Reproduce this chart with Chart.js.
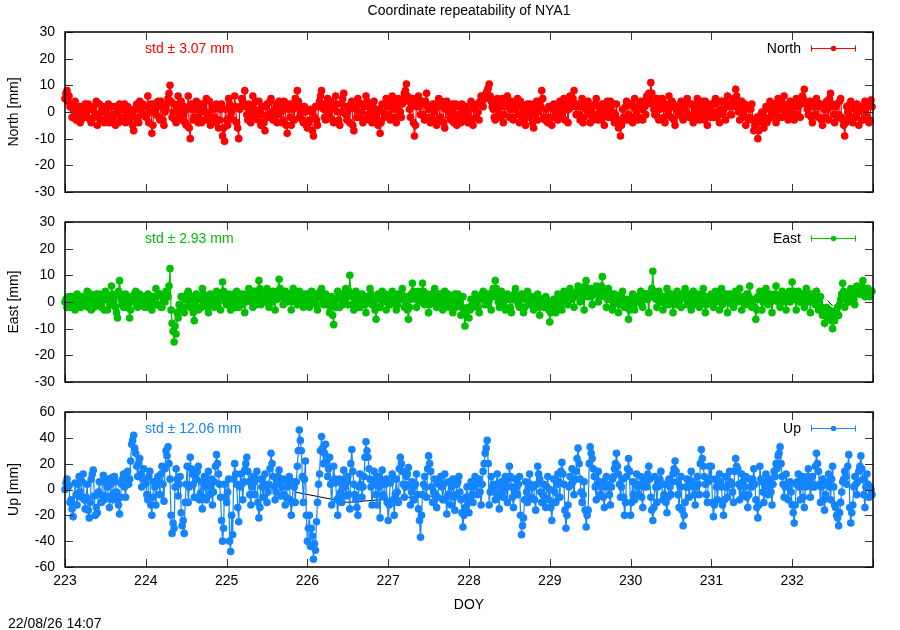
<!DOCTYPE html>
<html>
<head>
<meta charset="utf-8">
<title>Coordinate repeatability of NYA1</title>
<script src="https://cdn.jsdelivr.net/npm/chart.js@4.4.1/dist/chart.umd.min.js"></script>
<style>
  html, body { margin: 0; padding: 0; background: #fff; }
  #wrap { position: relative; width: 900px; height: 630px; }
  #wrap canvas { position: absolute; left: 0; top: 0; }
</style>
</head>
<body>
<div id="wrap">
  <canvas id="northChart" width="900" height="630"></canvas>
  <canvas id="eastChart" width="900" height="630"></canvas>
  <canvas id="upChart" width="900" height="630"></canvas>
</div>
<script>
// epochs: solutions every 0.025 day starting at DOY 223.0 (the *B lists hold the
// solutions that fall half a step later, 223.0125, 223.0375, ...)
const doyStart = 223
const epochStep = 0.025
const midOffset = 0.0125
const doyTicks = [223, 224, 225, 226, 227, 228, 229, 230, 231, 232, 233]

// North residuals [mm], one row per day
const north = [
  5, 8, 6, 3, 1, 4, -1, 2, -3, 0, 3, -2, 1, -4, 2, -1, -5, 3, 0, -3, 1, -2, -4, 2, -1, -5, 0, 3, -3, 1, -4, 2, -2, 0, -7, 1, -3, 4, -1, 2,
  -2, 6, 0, -8, 3, -1, 4, -3, 2, -5, 1, 5, 10, -2, 3, -4, 6, 0, -3, 2, -5, 6, -10, 1, -2, 4, -4, 0, 3, -3, 5, -1, -5, 2, -2, 3, -6, 1, -9, -11,
  -3, 5, -2, 1, 6, -4, -10, 2, 4, 8, -1, 3, -4, 6, 0, -2, 4, -5, 2, -7, 3, -1, 5, -3, 1, -4, 4, 0, -3, 2, -8, 3, -5, 1, 5, 8, -2, 2, -4, 0,
  -6, -3, 0, -9, 2, -5, 4, 8, 1, -3, 5, -2, 3, -4, 6, 0, -5, 3, 7, -1, 2, -4, 4, -7, 1, 5, -2, 3, -3, 6, -1, 2, -4, 4, 0, -5, -8, 3, -2, 5,
  2, -3, 6, 1, -4, 5, 0, 3, 7, 10.5, 4, -2, 5, -9, 2, 6, -1, 4, -3, 7, 1, -4, 3, 0, -5, 5, -2, 2, -6, 4, 0, -3, 3, -1, -5, 2, -4, 1, -3, 0,
  -2, 4, -5, 1, 3, -3, 6, 2, 5, 8, 10.5, 4, 1, -3, 5, -1, 3, -4, 2, 6, -2, 4, -3, 1, 5, -4, 2, 0, -5, 3, -2, 1, -6, 2, -3, 4, 8, -2, 1, -4,
  2, -5, 3, 0, -3, 4, -2, 5, 1, -4, 6, 2, 8, -1, 3, -3, 5, -2, 1, 4, -4, 2, -1, 5, -3, 0, 3, -5, 2, -2, 4, 0, -4, 3, -6, -9, 1, -3, 4, -1,
  3, -4, 5, 0, -2, 4, -3, 2, 6, 7, 11, 3, -1, 5, -3, 2, 4, -4, 1, 6, -2, 3, -5, 2, 0, 4, -3, 1, 5, -2, 3, -4, 0, 5, -3, 2, -1, 4, -5, 1,
  3, -2, 5, 0, -4, 4, 1, -3, 6, 2, -1, 5, 8.5, 3, -3, 4, 0, -5, 2, -2, 3, -7, -4, -10, -3, 0, -6, 2, -3, 4, -1, 3, -4, 5, 1, -2, 6, 0, -3, 4,
  1, -3, 5, 2, -2, 6, 8.5, 3, -1, 4, -4, 2, 5, -2, 3, -5, 1, 4, -3, 7, 2, -4, 3, -1, 5, -3, -9, 2, -2, 4, -4, 1, 3, -5, 2, -3, 4, -2, -4, 4.5,
]
const northB = [
  7, 4, 2, -2, 3, -3, 1, -4, 2, -2, 0, 3, -3, 1, -2, 4, -1, -3, 2, -4, 0, 3, -2, -3, 2, -1, -4, 1, -2, 3, 0, -3, 1, -5, -2, 3, -4, 1, 3, -1,
  2, -4, 3, -5, 1, 2, -2, 4, -3, 0, 3, 7, 4, 0, -3, 2, -2, 4, -1, -4, 1, -6, 3, -3, 1, -2, 3, -4, 2, 0, -3, 4, -2, 1, -4, 2, -3, 3, -6, 1,
  -5, 3, 0, -3, 2, -6, 1, 5, 3, 2, -3, 0, 2, -2, 4, -3, 1, -1, -4, 2, -2, 4, 0, -2, 3, -1, 2, -4, 4, -5, 1, -2, 3, -3, 2, 4, 0, -3, 2, -5,
  -4, 1, -7, -2, -3, 2, 6, 3, -2, 2, 0, 4, -3, 1, 3, -3, 0, 5, 2, -3, 1, 3, -5, 2, -2, 3, 0, -4, 2, 4, -3, 0, 2, -2, -3, 1, -4, 0, 3, 2,
  -1, 4, 3, -2, 2, 3, -2, 5, 8, 6, 1, 3, -4, -5, 4, 2, 3, -1, 4, 2, -2, 1, -3, 3, 2, -3, 4, -4, 1, 2, -2, 1, -4, 3, -2, -1, 3, -2, 2, -4,
  1, -3, 2, -2, 0, 4, 3, 6, 7, 9, 6, 2, -2, 3, 1, -2, 5, -1, 4, 3, 1, -2, 2, 3, -1, 4, -2, -3, 1, 0, 3, -4, -1, 4, 0, 2, 5, -3, -2, 2,
  -2, 1, -2, 2, 1, -1, 3, -3, 3, 1, 4, 5, 3, 2, -1, 2, -4, 3, 2, -1, 1, -3, 3, -2, 2, -3, 1, -1, 4, 1, -2, 3, -1, -4, -3, -5, -2, 2, -3, 3,
  -2, 2, 1, -3, 3, 1, 4, -1, 3, 5, 7, 1, 3, -2, 1, 5, -2, 3, -1, 2, 4, -3, 1, -1, 3, -2, 2, 4, -1, 3, -2, 2, 3, -2, 1, 4, -3, 2, 0, -2,
  0, 3, -2, 4, 1, -1, 4, 2, 3, -1, 4, 2, 6, 0, 2, -2, 3, 2, -3, 1, -3, -5, -2, -7, -1, -4, -2, -4, 1, -2, 3, 0, 2, -2, 4, 3, 2, -2, 3, -1,
  3, 2, -1, 4, 3, 5, 4, 1, 2, -2, 3, -1, 2, 3, -3, 2, -2, 1, 5, 3, -1, 2, -2, 4, -2, -5, -4, 0, 3, -2, 2, -2, 0, 2, -3, 1, -1, 2, -3, 2,
]

// East residuals [mm]
const east = [
  0, -2, 2, -1, 1, -3, 3, 0, -2, 2, -1, 4, 1, -3, 2, 0, -1, 3, -2, 1, 4, -3, 2, 6, 0, -2, -6, 8, 1, -2, 3, -1, -6, 2, 0, 4, -2, 3, -1, 1,
  -2, 3, 0, -3, 2, 5, -1, 3, -2, 1, 4, 2, 12.5, -8, -15, -12, -6, -3, 2, -4, 1, 4, -2, 0, -7, 3, -3, 1, 5, -1, 2, -4, 3, 0, -2, 4, 1, -3, 7.5, 2,
  -1, 3, -3, 2, 0, 4, -2, 1, 3, -4, 2, 5, 0, -2, 4, 1, 8, -1, 3, 0, 5, -2, 2, 4, -3, 1, 8.5, 2, -1, 4, 0, 3, -3, 5, 1, -1, 4, 2, -2, 3,
  1, -2, 4, 0, 3, -3, 2, 5, -1, 3, 0, -4, 2, -8.5, 1, 4, -2, 3, 0, 5, -1, 10, 2, -3, 4, 0, -2, 3, 1, -4, 2, 5, -1, 0, -6.5, 3, -2, 4, 1, -3,
  2, -1, 4, 0, -3, 3, 1, 5, -2, 2, -6.5, 1, 7, 3, -2, 4, 0, 7, -1, 3, -4, 2, 0, 5, -2, 1, 3, -3, 4, 0, -2, 2, -4, 3, 1, -1, -5, 2, -9, -3,
  -6, 1, -2, 3, 0, -4, 2, 4, -1, 3, 1, -3, 5, 8, 2, -2, 4, 0, -3, 3, 1, -4, 2, 5, 0, -2, 3, -4, 1, 4, -1, 2, -3, 0, 3, -5, 1, -2, 2, -1,
  -7.5, -2, 1, -4, 3, 0, -3, 4, 2, -1, 5, 1, -2, 3, 6, 0, 4, -3, 8, 2, 5, -1, 3, 6, 0, 4, 9.5, 2, -2, 5, 1, -3, 3, 0, -4, 2, 4, -2, 1, -6.5,
  -1, 3, -3, 2, 0, 4, -2, 1, 3, -4, 2, 11.5, 3, -2, 4, 0, -3, 2, 5, -1, 3, -4, 1, 4, 0, -2, 3, 5, -1, 2, -3, 4, 0, 3, -2, 1, 5, -4, 2, 0,
  3, -2, 4, 1, -3, 5, 0, 2, -4, 3, 1, -2, 4, 0, 5, -3, 2, -1, 3, 6, -2, 1, -6.5, 2, 4, -3, 0, 5, -1, 3, -4, 2, 6, 0, -2, 4, 1, -3, 3, 0,
  7.5, 2, -3, 4, 0, 3, -2, 5, 1, -4, 3, 0, 4, -3, 2, -5, -8, -2, -6, -4, -10, -7, -3, -5, 1, 7, -2, 3, 0, 5, 2, -1, 6, 3, 4, 8, 2, 5, 3, 4,
]
const eastB = [
  1, 0, -2, 2, -1, 1, -2, 2, 1, -1, 2, -2, 3, 0, -2, 3, 1, -1, 2, -3, 1, 2, -1, 3, 2, -4, 4, 3, -1, 2, -2, 1, -3, 1, 3, -1, 2, 0, 2, -2,
  1, -1, 2, 1, -1, 2, 3, -2, 2, 0, 3, 6, -3, -11, -9, -4, -1, 2, -2, 1, 3, -1, 2, -4, -1, 1, 2, -2, 3, 1, -2, 1, -1, 2, 3, -1, 3, 2, 4, 0,
  2, -1, 1, 3, -2, 2, 3, -1, 2, 0, 3, 2, 4, 1, -1, 3, 5, 2, 1, 3, 2, 3, 0, 2, 3, 4, 5, 3, 1, 2, 3, 1, 2, 0, 3, 2, 1, 3, 0, 1,
  3, 0, 2, 1, -1, 2, 4, 1, 2, -1, 2, -2, -5, 0, -2, 2, 1, -1, 3, 2, 4, 3, -1, 1, 2, -2, 1, 2, -1, 2, 0, 3, 1, -3, -2, 1, 2, 0, 3, 1,
  0, 3, 1, 2, -1, 2, 3, 1, 0, -3, -2, 3, 4, 1, 2, 1, 3, 4, 2, 1, -1, 3, 2, 1, 0, 3, -1, 2, 1, 3, -1, 0, 2, -2, 3, 1, -2, -4, -5, -2,
  -3, -1, 1, 2, -2, 1, 3, 2, 1, -1, 3, 2, 4, 5, 0, 2, 1, -2, 2, 1, -2, 1, 3, 2, -1, 1, 2, -2, 2, 1, 0, -1, 1, 2, -2, 1, -1, 0, 1, -3,
  -4, 0, -2, 1, 2, -1, 2, 1, 3, 2, 1, 3, 2, 4, 3, 5, 2, 6, 4, 3, 2, 4, 5, 3, 2, 6, 5, 3, 1, 2, 3, -1, 1, 2, -1, 3, 1, 0, -2, -3,
  1, -1, 0, 2, 1, -1, 2, 3, 1, 2, 5, 4, 1, 2, 0, 2, 1, -1, 3, 1, 0, 2, -1, 2, 1, 3, 2, 1, 0, 3, 1, -1, 2, 1, 0, 3, 2, -1, 1, 2,
  1, 2, 0, 3, 1, -1, 2, 3, 0, 2, -1, 3, 1, 2, 2, 0, 1, 3, 2, 1, 0, -2, -3, 1, 2, 0, 3, 1, 2, 0, 1, 3, 2, 1, 3, 2, 0, 1, 4, 2,
  4, 1, 2, 0, 3, 1, 2, 0, 3, 1, 2, -1, 1, 0, -2, -3, -5, -4, -3, -7, -6, -5, -2, -1, 3, 4, 1, 2, 4, 3, 1, 4, 5, 3, 6, 4, 3, 5, 2, 4,
]

// Up residuals [mm]
const up = [
  0, 8, 3, -8, -21, 5, -12, 10, -6, 12, -15, 4, -22, 8, 15, -20, -18, 6, -10, 11, -5, 2, -14, 9, -3, 6, -8, -19, 4, 12, -6, 14, 8, 35, 42, 28, 10, 24, 2, 16,
  5, -8, 14, -20, 6, -12, 10, -4, 18, -9, 30, 33, 8, -34, -30, 16, -5, 10, -28, -34, 4, -10, 25, 12, -6, 8, 18, -3, -15, 10, -8, 14, 2, -12, 6, 27, 12, -6, -40, 4,
  -10, 8, -48, -35, 20, 4, -25, 12, -8, 15, 25, 6, -12, 10, -4, 14, -22, 8, -6, 12, -10, 4, 28, 10, -8, 6, 15, -5, 8, -12, 2, 10, -20, 6, -10, 18, 46, 30, -10, 22,
  -40, -20, -30, -54, -47, -10, 12, 41, 20, 35, 10, 25, -12, 18, 5, -20, 8, -10, 15, -5, 10, -15, 31, 4, -8, -20, 12, -6, 10, 37, 25, 8, -12, 14, -4, 10, -22, 15, -6, 8,
  -24, 5, 12, -20, 8, -10, 25, 14, -6, 10, 17, -12, 6, -8, 12, -15, -37, -4, 10, -6, 26, 14, -10, 8, -14, 4, 10, -8, 12, -19, 6, -12, 8, -16, 4, 10, -8, -29, -14, 2,
  -18, 6, -10, 10, -4, 8, -12, 14, 28, 38, -12, 10, 4, -8, 12, -15, 6, -6, 10, -10, 18, 2, -14, 8, -4, 10, -35, -22, 6, -10, 12, -6, 2, -16, 18, 8, -10, 4, -14, 10,
  0, -24, 8, -10, 12, -6, 21, 4, -30, -12, 10, 16, -4, 14, 32, 8, -10, 6, -29, -16, 33, 24, 10, -8, 14, -4, 6, -14, 10, 2, -12, 8, 16, 28, 12, -6, 8, -20, 10, 24,
  -20, 6, -8, 12, -4, 10, -14, 8, 2, 18, -6, -24, 10, -10, 6, 14, -8, 4, -18, 8, -4, 12, 22, 6, -14, 10, -28, -10, 8, -6, 14, 2, -12, 10, -4, 31, 18, 4, -10, 18,
  18, -21, 8, -8, 12, 2, -20, 10, -6, 14, 4, -10, 24, 16, -8, 12, -4, 10, -14, 8, 2, 16, -8, -22, 18, 6, -10, 12, -4, 8, -12, 14, 20, 26, 33, 10, -6, 12, -8, 6,
  -12, -26, 4, 12, -8, 10, -14, 6, 16, -6, 10, 2, 28, 14, -10, 8, -16, 4, 12, -8, 18, -12, -20, -28, -10, 6, 14, 4, 27, -26, -12, 10, -4, 14, 26, 8, -14, 12, -6, 0,
]
const upB = [
  5, 2, -10, -15, -12, -4, 4, -2, 6, -8, -6, -16, -10, 12, -5, -14, -2, -4, 6, -8, 8, -6, 4, -8, 10, -2, -12, -6, 8, 2, 10, 4, 22, 38, 32, 18, 20, 12, 8, 4,
  -4, 10, -12, -6, 2, 4, 6, 12, 4, 16, 26, 20, -20, -26, 2, 8, 4, -18, -24, -10, 18, 2, 16, 4, 10, 14, -8, 6, -6, 2, 6, -4, 8, -2, 18, 20, 4, -24, -30, -6,
  -2, -40, -20, 8, 12, -14, 2, 4, 6, 20, 14, -4, 2, 6, 8, -10, -14, 2, 4, 2, -2, 16, 20, 2, -2, 10, 4, 2, -4, -6, 6, -8, -10, 2, 6, 30, 38, 10, 8, -20,
  -30, -44, -36, -42, -25, 4, 30, 32, 28, 22, 16, 4, 6, 8, -8, -6, -2, 4, 2, 6, -4, 20, 14, -4, -14, 2, 4, 2, 25, 30, 16, 2, 4, 6, -12, 2, 6, -4, 4, -10,
  -12, 8, -8, -4, -2, 16, 20, 4, 2, 12, 4, -2, 2, 4, -4, -24, -20, 4, 2, 16, 20, 2, -2, -4, -6, 6, 2, 4, -8, -4, -4, 2, -6, -4, 6, -2, -18, -20, -6, -10,
  -6, -4, 2, 4, 6, -2, 4, 20, 32, 20, -2, 2, -2, 4, -4, 2, -2, 4, 2, 8, 10, -6, -2, 2, 4, -20, -28, -8, -2, 2, 4, 2, -8, 4, 12, -2, -4, -6, 2, -8,
  -14, -10, -2, 4, 6, 14, 12, -16, -20, 2, 4, 6, 8, 24, 20, -2, -4, -16, -20, 20, 28, 16, 2, 4, 6, 2, -6, 2, 4, -4, 2, 10, 20, 18, 4, 2, -6, -10, 16, 14,
  -10, -4, 4, 2, 4, -6, 2, 4, 12, 8, -16, -14, 2, 2, 8, 4, -4, -10, -6, 2, 6, 16, 14, -4, 2, -16, -20, 2, 2, 4, 6, -4, 2, 4, 20, 24, 10, -4, 6, 8,
  -10, -12, 2, 4, 6, -12, -8, 2, 4, 6, -2, 14, 18, 4, 2, 6, 2, -6, -4, 2, 8, 4, -14, -12, 8, -2, 2, 4, 2, -2, 4, 10, 16, 28, 20, 4, 2, 4, 2, -2,
  -18, -12, 6, 2, 4, -6, 2, 10, 6, 2, 4, 18, 20, 4, 2, -8, -4, 6, 2, 8, 2, -14, -22, -18, -2, 8, 10, 18, -14, -18, 2, 4, 6, 18, 16, -4, 2, 4, 2, -4,
]

// thin black segments visible under the data
const eastBlackDoy = [232.44, 232.5]
const eastBlack = [0.5, -1.5]
const upBlackDoy = [225.85, 226.5, 227.45, 228.15]
const upBlack = [-2, -10, -5, -6]

const stdTexts = ['std \u00b1 3.07 mm', 'std \u00b1 2.93 mm', 'std \u00b1 12.06 mm']

const FONT = '"Liberation Sans", Arial, sans-serif'

// merge the on-step and half-step solutions into one time-ordered series
function epochPoints(values, midValues) {
  const pts = []
  values.forEach((v, i) => {
    const t = doyStart + i * epochStep
    pts.push({ x: t, y: v })
    pts.push({ x: t + midOffset, y: midValues[i] })
  })
  return pts
}

function toPoints(doys, values) {
  return values.map((v, i) => ({ x: doys[i], y: v }))
}

const gnuFrame = {
  id: 'gnuFrame',
  afterDraw(chart, args, opts) {
    const {
      ctx,
      chartArea: { left, top, right, bottom },
      scales: { x, y },
    } = chart
    ctx.save()
    // inward ticks on all four sides
    ctx.strokeStyle = '#333'
    ctx.lineWidth = 1
    ctx.beginPath()
    y.ticks.forEach((t) => {
      const py = Math.round(y.getPixelForValue(t.value)) + 0.5
      ctx.moveTo(left, py)
      ctx.lineTo(left + 8, py)
      ctx.moveTo(right, py)
      ctx.lineTo(right - 8, py)
    })
    doyTicks.forEach((d) => {
      const px = Math.round(x.getPixelForValue(d)) + 0.5
      ctx.moveTo(px, top)
      ctx.lineTo(px, top + 8)
      ctx.moveTo(px, bottom)
      ctx.lineTo(px, bottom - 8)
    })
    ctx.stroke()
    ctx.strokeStyle = '#000'
    ctx.lineWidth = 1.5
    ctx.strokeRect(left, top, right - left, bottom - top)

    // std label
    ctx.font = `14px ${FONT}`
    ctx.textBaseline = 'alphabetic'
    ctx.fillStyle = opts.color
    ctx.textAlign = 'left'
    ctx.fillText(opts.std, 145, top + 21)

    // key with error bar sample
    ctx.fillStyle = '#000'
    ctx.textAlign = 'right'
    ctx.fillText(opts.name, 801, top + 21)
    const ly = top + 16.5
    ctx.strokeStyle = opts.color
    ctx.lineWidth = 1
    ctx.beginPath()
    ctx.moveTo(811, ly)
    ctx.lineTo(856, ly)
    ctx.moveTo(811.5, ly - 3)
    ctx.lineTo(811.5, ly + 3)
    ctx.moveTo(855.5, ly - 3)
    ctx.lineTo(855.5, ly + 3)
    ctx.stroke()
    ctx.fillStyle = opts.color
    ctx.beginPath()
    ctx.arc(833.5, ly, 2.7, 0, Math.PI * 2)
    ctx.fill()

    ctx.fillStyle = '#000'
    if (opts.title) {
      ctx.textAlign = 'center'
      ctx.fillText(opts.title, 469, 15)
    }
    if (opts.stamp) {
      ctx.textAlign = 'left'
      ctx.fillText(opts.stamp, 8, 628)
    }
    ctx.restore()
  },
}

function panelConfig(p) {
  const datasets = [
    {
      label: p.name,
      data: epochPoints(p.values, p.midValues),
      borderColor: p.color,
      backgroundColor: p.color,
      borderWidth: 1.2,
      pointRadius: 3.8,
      pointBorderWidth: 0,
      pointBackgroundColor: p.color,
      tension: 0,
      order: 1,
    },
  ]
  if (p.blackDoy) {
    datasets.push({
      label: 'black',
      data: toPoints(p.blackDoy, p.blackValues),
      borderColor: '#000',
      borderWidth: 1,
      pointRadius: 0,
      order: 2,
    })
  }
  return {
    type: 'line',
    data: { datasets },
    options: {
      responsive: false,
      animation: false,
      events: [],
      clip: 4,
      layout: {
        padding: { left: 0, right: 27, top: p.padTop, bottom: p.padBottom },
      },
      plugins: {
        legend: { display: false },
        tooltip: { enabled: false },
        gnuFrame: {
          color: p.color,
          name: p.name,
          std: p.std,
          title: p.title,
          stamp: p.stamp,
        },
      },
      scales: {
        x: {
          type: 'linear',
          min: 223,
          max: 233,
          grid: { display: false, drawTicks: false },
          border: { display: false },
          ticks: {
            display: !!p.last,
            stepSize: 1,
            autoSkip: false,
            maxRotation: 0,
            padding: 6,
            color: '#000',
            font: { family: FONT, size: 14 },
            callback: (v) => (v < 233 ? v : ''),
          },
          title: {
            display: !!p.last,
            text: 'DOY',
            color: '#000',
            font: { family: FONT, size: 14 },
            padding: { top: 0, bottom: 16.5 },
          },
          afterFit: (scale) => {
            scale.height = p.last ? 63 : 0
          },
        },
        y: {
          min: p.yMin,
          max: p.yMax,
          grid: { display: false, drawTicks: false },
          border: { display: false },
          ticks: {
            stepSize: p.yStep,
            padding: 10,
            color: '#000',
            font: { family: FONT, size: 14 },
          },
          title: {
            display: true,
            text: p.yTitle,
            color: '#000',
            font: { family: FONT, size: 14 },
            padding: { top: 6, bottom: 0 },
          },
          afterFit: (scale) => {
            scale.width = 65
          },
        },
      },
    },
    plugins: [gnuFrame],
  }
}

new Chart(
  document.getElementById('northChart'),
  panelConfig({
    name: 'North',
    yTitle: 'North [mm]',
    values: north,
    midValues: northB,
    color: '#ff0000',
    std: stdTexts[0],
    yMin: -30,
    yMax: 30,
    yStep: 10,
    padTop: 32,
    padBottom: 438,
    title: 'Coordinate repeatability of NYA1',
  })
)

new Chart(
  document.getElementById('eastChart'),
  panelConfig({
    name: 'East',
    yTitle: 'East [mm]',
    values: east,
    midValues: eastB,
    color: '#00c000',
    std: stdTexts[1],
    yMin: -30,
    yMax: 30,
    yStep: 10,
    padTop: 222,
    padBottom: 248,
    blackDoy: eastBlackDoy,
    blackValues: eastBlack,
  })
)

new Chart(
  document.getElementById('upChart'),
  panelConfig({
    name: 'Up',
    yTitle: 'Up [mm]',
    values: up,
    midValues: upB,
    color: '#1584ff',
    std: stdTexts[2],
    yMin: -60,
    yMax: 60,
    yStep: 20,
    padTop: 412,
    padBottom: 0,
    blackDoy: upBlackDoy,
    blackValues: upBlack,
    last: true,
    stamp: '22/08/26 14:07',
  })
)
</script>
</body>
</html>
